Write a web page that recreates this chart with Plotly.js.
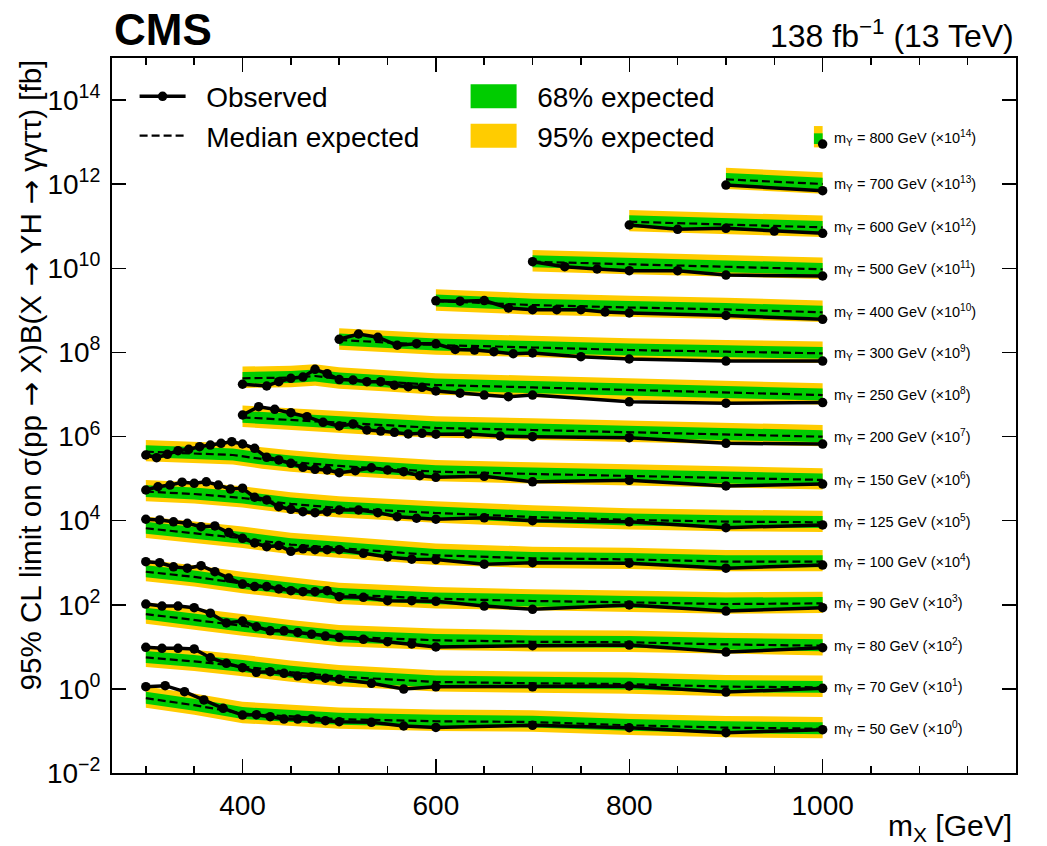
<!DOCTYPE html>
<html><head><meta charset="utf-8">
<script src="https://cdn.plot.ly/plotly-3.0.1.min.js"></script>
<style>html,body{margin:0;padding:0;background:#fff}</style>
</head><body>
<div id="chart" style="width:1047px;height:846px"></div>
<script>
// ---------------- DATA (limits in fb, before the x10^k display scaling) ----------------
const MY_VALUES = [50, 70, 80, 90, 100, 125, 150, 200, 250, 300, 400, 500, 600, 700, 800];
const SCALE_POW = [0, 1, 2, 3, 4, 5, 6, 7, 8, 9, 10, 11, 12, 13, 14];

// mY = 50
const mX_50 = [300,320,340,360,380,400,414.3,428.6,442.9,457.1,471.4,485.7,500,533.3,566.7,600,700,800,900,1000];
const obs_50 = [1.13,1.19,0.86,0.545,0.345,0.239,0.243,0.218,0.192,0.192,0.192,0.175,0.166,0.160,0.131,0.121,0.136,0.119,0.091,0.107];
const mXexp_50 = [300,350,400,450,500,600,700,800,900,1000];
const exp_50 = [0.60,0.41,0.26,0.22,0.19,0.17,0.163,0.136,0.12,0.113];
const lo68_50 = [0.444,0.303,0.192,0.163,0.141,0.126,0.121,0.101,0.0888,0.0836];
const hi68_50 = [0.852,0.582,0.369,0.312,0.270,0.241,0.231,0.193,0.170,0.160];
const lo95_50 = [0.354,0.242,0.153,0.130,0.112,0.100,0.0962,0.0802,0.0708,0.0667];
const hi95_50 = [1.14,0.779,0.494,0.418,0.361,0.323,0.310,0.258,0.228,0.215];

// mY = 70
const mX_70 = [300,316.7,333.3,350,366.7,383.3,400,414.3,428.6,442.9,457.1,471.4,485.7,500,533.3,566.7,600,700,800,900,1000];
const obs_70 = [0.975,0.92,0.92,0.89,0.55,0.405,0.32,0.248,0.256,0.234,0.202,0.195,0.179,0.169,0.136,0.099,0.112,0.112,0.117,0.084,0.103];
const mXexp_70 = [300,350,400,450,500,600,700,800,900,1000];
const exp_70 = [0.56,0.45,0.34,0.25,0.195,0.146,0.136,0.13,0.113,0.109];
const lo68_70 = [0.414,0.333,0.252,0.185,0.144,0.108,0.101,0.0962,0.0836,0.0807];
const hi68_70 = [0.795,0.639,0.483,0.355,0.277,0.207,0.193,0.185,0.160,0.155];
const lo95_70 = [0.330,0.266,0.201,0.148,0.115,0.0861,0.0802,0.0767,0.0667,0.0643];
const hi95_70 = [1.06,0.855,0.646,0.475,0.371,0.277,0.258,0.247,0.215,0.207];

// mY = 80
const mX_80 = [300,316.7,333.3,350,366.7,383.3,400,414.3,428.6,442.9,457.1,471.4,485.7,500,525,550,575,600,700,800,900,1000];
const obs_80 = [1.04,0.93,0.93,0.85,0.63,0.37,0.41,0.30,0.24,0.24,0.22,0.20,0.18,0.168,0.151,0.132,0.117,0.099,0.106,0.110,0.075,0.095];
const mXexp_80 = [300,350,400,450,500,600,700,800,900,1000];
const exp_80 = [0.60,0.43,0.31,0.23,0.174,0.143,0.132,0.128,0.114,0.106];
const lo68_80 = [0.444,0.318,0.229,0.170,0.129,0.106,0.0977,0.0947,0.0844,0.0784];
const hi68_80 = [0.852,0.611,0.440,0.327,0.247,0.203,0.187,0.182,0.162,0.151];
const lo95_80 = [0.354,0.254,0.183,0.136,0.103,0.0844,0.0779,0.0755,0.0673,0.0625];
const hi95_80 = [1.14,0.817,0.589,0.437,0.331,0.272,0.251,0.243,0.217,0.201];

// mY = 90
const mX_90 = [300,314.3,328.6,342.9,357.1,371.4,385.7,400,412.5,425,437.5,450,462.5,475,487.5,500,525,550,575,600,650,700,800,900,1000];
const obs_90 = [1.06,1.00,0.80,0.74,0.85,0.61,0.43,0.31,0.27,0.27,0.237,0.216,0.205,0.205,0.216,0.156,0.150,0.125,0.125,0.121,0.093,0.078,0.099,0.071,0.085];
const mXexp_90 = [300,350,400,450,500,600,700,800,900,1000];
const exp_90 = [0.61,0.46,0.32,0.24,0.177,0.139,0.123,0.114,0.104,0.108];
const lo68_90 = [0.451,0.340,0.237,0.178,0.131,0.103,0.0910,0.0844,0.0770,0.0799];
const hi68_90 = [0.866,0.653,0.454,0.341,0.251,0.197,0.175,0.162,0.148,0.153];
const lo95_90 = [0.360,0.271,0.189,0.142,0.104,0.0820,0.0726,0.0673,0.0614,0.0637];
const hi95_90 = [1.16,0.874,0.608,0.456,0.336,0.264,0.234,0.217,0.198,0.205];

// mY = 100
const mX_100 = [300,314.3,328.6,342.9,357.1,371.4,385.7,400,412.5,425,437.5,450,462.5,475,487.5,500,525,550,575,600,650,700,800,900,1000];
const obs_100 = [1.08,1.04,0.94,0.865,0.72,0.75,0.52,0.38,0.294,0.24,0.256,0.186,0.214,0.204,0.204,0.204,0.167,0.137,0.121,0.119,0.092,0.100,0.097,0.074,0.088];
const mXexp_100 = [300,350,400,450,500,600,700,800,900,1000];
const exp_100 = [0.66,0.51,0.38,0.27,0.22,0.15,0.127,0.120,0.106,0.106];
const lo68_100 = [0.488,0.377,0.281,0.200,0.163,0.111,0.094,0.0888,0.0784,0.0784];
const hi68_100 = [0.937,0.724,0.540,0.383,0.312,0.213,0.180,0.170,0.151,0.151];
const lo95_100 = [0.389,0.301,0.224,0.159,0.130,0.0885,0.0749,0.0708,0.0625,0.0625];
const hi95_100 = [1.25,0.969,0.722,0.513,0.418,0.285,0.241,0.228,0.201,0.201];

// mY = 125
const mX_125 = [300,312.5,325,337.5,350,362.5,375,387.5,400,412.5,425,437.5,450,462.5,475,487.5,500,520,540,560,580,600,650,700,800,900,1000];
const obs_125 = [0.535,0.64,0.70,0.82,0.77,0.84,0.70,0.565,0.59,0.36,0.31,0.214,0.186,0.163,0.155,0.163,0.179,0.179,0.155,0.124,0.114,0.108,0.117,0.0997,0.094,0.068,0.079];
const mXexp_125 = [300,350,400,450,500,600,700,800,900,1000];
const exp_125 = [0.49,0.43,0.345,0.25,0.20,0.152,0.122,0.104,0.095,0.091];
const lo68_125 = [0.363,0.318,0.255,0.185,0.148,0.112,0.0903,0.0770,0.0703,0.0673];
const hi68_125 = [0.696,0.611,0.490,0.355,0.284,0.216,0.173,0.148,0.135,0.129];
const lo95_125 = [0.289,0.254,0.204,0.148,0.118,0.0897,0.0720,0.0614,0.0561,0.0537];
const hi95_125 = [0.931,0.817,0.656,0.475,0.380,0.289,0.232,0.198,0.181,0.173];

// mY = 150
const mX_150 = [300,311.1,322.2,333.3,344.4,355.6,366.7,377.8,388.9,400,412.5,425,437.5,450,462.5,475,487.5,500,516.7,533.3,550,566.7,583.3,600,650,700,800,900,1000];
const obs_150 = [0.364,0.314,0.378,0.46,0.497,0.573,0.628,0.69,0.753,0.664,0.525,0.321,0.277,0.231,0.185,0.166,0.160,0.138,0.154,0.181,0.160,0.146,0.117,0.107,0.113,0.084,0.091,0.067,0.074];
const mXexp_150 = [300,350,390,420,450,500,600,700,800,900,1000];
const exp_150 = [0.436,0.40,0.364,0.292,0.248,0.20,0.146,0.129,0.115,0.103,0.093];
const lo68_150 = [0.323,0.296,0.269,0.216,0.184,0.148,0.108,0.0955,0.0851,0.0762,0.0688];
const hi68_150 = [0.619,0.568,0.517,0.415,0.352,0.284,0.207,0.183,0.163,0.146,0.132];
const lo95_150 = [0.257,0.236,0.215,0.172,0.146,0.118,0.0861,0.0761,0.0679,0.0608,0.0549];
const hi95_150 = [0.828,0.760,0.692,0.555,0.471,0.380,0.277,0.245,0.219,0.196,0.177];

// mY = 200
const mX_200 = [400,416.7,433.3,450,466.7,483.3,500,514.3,528.6,542.9,557.1,571.4,585.7,600,633.3,666.7,700,800,900,1000];
const obs_200 = [0.325,0.512,0.444,0.368,0.296,0.218,0.178,0.199,0.143,0.135,0.126,0.115,0.119,0.1135,0.115,0.103,0.099,0.094,0.069,0.066];
const mXexp_200 = [400,450,500,550,600,700,800,900,1000];
const exp_200 = [0.286,0.247,0.21,0.178,0.160,0.143,0.128,0.112,0.099];
const lo68_200 = [0.212,0.183,0.155,0.132,0.118,0.106,0.0947,0.0829,0.0733];
const hi68_200 = [0.406,0.351,0.298,0.253,0.227,0.203,0.182,0.159,0.141];
const lo95_200 = [0.169,0.146,0.124,0.105,0.0944,0.0844,0.0755,0.0661,0.0584];
const hi95_200 = [0.543,0.469,0.399,0.338,0.304,0.272,0.243,0.213,0.188];

// mY = 250
const mX_250 = [400,425,437.5,450,462.5,475,487.5,500,514.3,528.6,542.9,557.1,571.4,585.7,600,625,650,675,700,800,900,1000];
const obs_250 = [0.175,0.159,0.201,0.242,0.26,0.396,0.312,0.226,0.221,0.201,0.201,0.166,0.153,0.148,0.121,0.107,0.097,0.0885,0.097,0.067,0.062,0.064];
const mXexp_250 = [400,450,475,500,550,600,700,800,900,1000];
const exp_250 = [0.242,0.253,0.275,0.233,0.198,0.168,0.147,0.128,0.111,0.097];
const lo68_250 = [0.179,0.187,0.204,0.172,0.147,0.124,0.109,0.0947,0.0821,0.0718];
const hi68_250 = [0.344,0.359,0.391,0.331,0.281,0.239,0.209,0.182,0.158,0.138];
const lo95_250 = [0.143,0.149,0.162,0.137,0.117,0.0991,0.0867,0.0755,0.0655,0.0572];
const hi95_250 = [0.460,0.481,0.523,0.443,0.376,0.319,0.279,0.243,0.211,0.184];

// mY = 300
const mX_300 = [500,520,540,560,580,600,620,640,660,680,700,750,800,900,1000];
const obs_300 = [0.205,0.274,0.229,0.148,0.161,0.160,0.118,0.114,0.104,0.093,0.097,0.079,0.0697,0.0624,0.0624];
const mXexp_300 = [500,600,700,800,900,1000];
const exp_300 = [0.197,0.150,0.131,0.114,0.104,0.095];
const lo68_300 = [0.146,0.111,0.0969,0.0844,0.0770,0.0703];
const hi68_300 = [0.280,0.213,0.186,0.162,0.148,0.135];
const lo95_300 = [0.116,0.0885,0.0773,0.0673,0.0614,0.0561];
const hi95_300 = [0.374,0.285,0.249,0.217,0.198,0.181];

// mY = 400
const mX_400 = [600,625,650,675,700,725,750,775,800,900,1000];
const obs_400 = [0.169,0.165,0.171,0.114,0.1035,0.1035,0.1035,0.0914,0.0865,0.0754,0.0612];
const mXexp_400 = [600,700,800,900,1000];
const exp_400 = [0.167,0.134,0.117,0.105,0.0898];
const lo68_400 = [0.124,0.0992,0.0866,0.0777,0.0665];
const hi68_400 = [0.237,0.190,0.166,0.149,0.128];
const lo95_400 = [0.0985,0.0791,0.0690,0.0620,0.0530];
const hi95_400 = [0.317,0.255,0.222,0.200,0.171];

// mY = 500
const mX_500 = [700,733.3,766.7,800,850,900,1000];
const obs_500 = [0.1435,0.109,0.0962,0.0877,0.0877,0.0692,0.0656];
const mXexp_500 = [700,800,900,1000];
const exp_500 = [0.143,0.123,0.107,0.0946];
const lo68_500 = [0.106,0.0910,0.0792,0.0700];
const hi68_500 = [0.203,0.175,0.152,0.134];
const lo95_500 = [0.0844,0.0726,0.0631,0.0558];
const hi95_500 = [0.272,0.234,0.203,0.180];

// mY = 600
const mX_600 = [800,850,900,950,1000];
const obs_600 = [0.107,0.0845,0.0893,0.0769,0.068];
const mXexp_600 = [800,900,1000];
const exp_600 = [0.128,0.11,0.094];
const lo68_600 = [0.0947,0.0814,0.0696];
const hi68_600 = [0.182,0.156,0.133];
const lo95_600 = [0.0755,0.0649,0.0555];
const hi95_600 = [0.243,0.209,0.179];

// mY = 700
const mX_700 = [900,1000];
const obs_700 = [0.0955,0.070];
const mXexp_700 = [900,1000];
const exp_700 = [0.130,0.101];
const lo68_700 = [0.0962,0.0747];
const hi68_700 = [0.185,0.143];
const lo95_700 = [0.0767,0.0596];
const hi95_700 = [0.247,0.192];

// mY = 800
const mX_800 = [1000];
const obs_800 = [0.090];
const mXexp_800 = [1000];
const exp_800 = [0.122];
const lo68_800 = [0.0902];
const hi68_800 = [0.162];
const lo95_800 = [0.075];
const hi95_800 = [0.241];

// Axis tick labels
const X_TICK_VALUES = [400, 600, 800, 1000, 1200];
const Y_TICK_EXPONENTS = [-2, 0, 2, 4, 6, 8, 10, 12, 14];

// ---------------- BUILD ----------------
const DATA = {
  50:[mX_50,obs_50,mXexp_50,exp_50,lo68_50,hi68_50,lo95_50,hi95_50],
  70:[mX_70,obs_70,mXexp_70,exp_70,lo68_70,hi68_70,lo95_70,hi95_70],
  80:[mX_80,obs_80,mXexp_80,exp_80,lo68_80,hi68_80,lo95_80,hi95_80],
  90:[mX_90,obs_90,mXexp_90,exp_90,lo68_90,hi68_90,lo95_90,hi95_90],
  100:[mX_100,obs_100,mXexp_100,exp_100,lo68_100,hi68_100,lo95_100,hi95_100],
  125:[mX_125,obs_125,mXexp_125,exp_125,lo68_125,hi68_125,lo95_125,hi95_125],
  150:[mX_150,obs_150,mXexp_150,exp_150,lo68_150,hi68_150,lo95_150,hi95_150],
  200:[mX_200,obs_200,mXexp_200,exp_200,lo68_200,hi68_200,lo95_200,hi95_200],
  250:[mX_250,obs_250,mXexp_250,exp_250,lo68_250,hi68_250,lo95_250,hi95_250],
  300:[mX_300,obs_300,mXexp_300,exp_300,lo68_300,hi68_300,lo95_300,hi95_300],
  400:[mX_400,obs_400,mXexp_400,exp_400,lo68_400,hi68_400,lo95_400,hi95_400],
  500:[mX_500,obs_500,mXexp_500,exp_500,lo68_500,hi68_500,lo95_500,hi95_500],
  600:[mX_600,obs_600,mXexp_600,exp_600,lo68_600,hi68_600,lo95_600,hi95_600],
  700:[mX_700,obs_700,mXexp_700,exp_700,lo68_700,hi68_700,lo95_700,hi95_700],
  800:[mX_800,obs_800,mXexp_800,exp_800,lo68_800,hi68_800,lo95_800,hi95_800]
};

const GREEN = '#00cc00', YELLOW = '#ffcc00';
const FONT = 'Liberation Sans, Arial, Helvetica, sans-serif';
const SINGLE_BAND_WIDTH = 9; // GeV width used to show a band made of a single mass point
const NB = '\u00a0\u00a0';

const bandTraces = [], expTraces = [], obsTraces = [], labels = [];

function bandPoly(xs, lo, hi, s) {
  let X = xs.slice(), L = lo.slice(), H = hi.slice();
  if (X.length === 1) { X = [X[0] - SINGLE_BAND_WIDTH, X[0]]; L = [L[0], L[0]]; H = [H[0], H[0]]; }
  return {
    x: X.concat(X.slice().reverse()),
    y: H.map(v => v * s).concat(L.map(v => v * s).reverse())
  };
}

MY_VALUES.forEach((my, i) => {
  const k = SCALE_POW[i], s = Math.pow(10, k);
  const [mx, obs, mxe, ex, l68, h68, l95, h95] = DATA[my];
  const first = i === 0;
  const p95 = bandPoly(mxe, l95, h95, s);
  bandTraces.push({x:p95.x, y:p95.y, type:'scatter', mode:'lines', fill:'toself', fillcolor:YELLOW,
    line:{width:0, color:YELLOW}, name:'95% expected', showlegend:false, hoverinfo:'skip'});
  const p68 = bandPoly(mxe, l68, h68, s);
  bandTraces.push({x:p68.x, y:p68.y, type:'scatter', mode:'lines', fill:'toself', fillcolor:GREEN,
    line:{width:0, color:GREEN}, name:'68% expected', showlegend:false, hoverinfo:'skip'});
  expTraces.push({x:mxe, y:ex.map(v => v * s), type:'scatter', mode:'lines',
    line:{color:'black', width:2.2, dash:'8px,4px'}, name:NB + 'Median expected', showlegend:first, legendrank:3});
  obsTraces.push({x:mx, y:obs.map(v => v * s), type:'scatter', mode:'lines+markers',
    line:{color:'black', width:3.5}, marker:{color:'black', size:9.5}, name:NB + 'Observed', showlegend:first, legendrank:1});
  labels.push({x:mxe[mxe.length-1], y:Math.log10(ex[ex.length-1] * s), xref:'x', yref:'y',
    text:'m<sub>Y</sub> = ' + my + ' GeV (×10<sup>' + k + '</sup>)', showarrow:false,
    xanchor:'left', yanchor:'middle', xshift:9, font:{size:14.5, family:FONT, color:'black'}});
});

// legend-only swatches (no data points)
const legendSwatches = [
  {x:[null], y:[null], type:'scatter', mode:'lines', line:{color:GREEN, width:10}, name:NB + '68% expected', legendrank:2, showlegend:true},
  {x:[null], y:[null], type:'scatter', mode:'lines', line:{color:YELLOW, width:10}, name:NB + '95% expected', legendrank:4, showlegend:true}
];

const ARROW = '<span style="font-family:DejaVu Sans">→</span>';
const annotations = labels.concat([
  {xref:'paper', yref:'paper', x:0, y:1, xanchor:'left', yanchor:'bottom', yshift:2, showarrow:false,
   text:'<b>CMS</b>', font:{size:44, family:FONT, color:'black'}},
  {xref:'paper', yref:'paper', x:1, y:1, xanchor:'right', yanchor:'bottom', yshift:2, showarrow:false,
   text:'138 fb<sup>−1</sup> (13 TeV)', font:{size:32, family:FONT, color:'black'}},
  {xref:'paper', yref:'paper', x:1, y:0, xanchor:'right', yanchor:'top', yshift:-34, xshift:-2, showarrow:false,
   text:'m<sub>X</sub> [GeV]', font:{size:30, family:FONT, color:'black'}},
  {xref:'paper', yref:'paper', x:0, y:1, xanchor:'center', yanchor:'top', xshift:-82, yshift:0, showarrow:false,
   textangle:-90, text:'95% CL limit on σ(pp ' + ARROW + ' X)B(X ' + ARROW + ' YH ' + ARROW + ' γγττ) [fb]',
   font:{size:29.6, family:FONT, color:'black'}}
]);

const layout = {
  width:1047, height:846,
  margin:{l:112, r:31, t:58, b:73},
  paper_bgcolor:'white', plot_bgcolor:'white',
  font:{family:FONT, color:'black'},
  showlegend:true,
  xaxis:{range:[265,1200], tickvals:X_TICK_VALUES, ticktext:X_TICK_VALUES.map(String),
    ticks:'inside', ticklen:14, tickwidth:1.5, tickcolor:'black',
    minor:{dtick:50, tick0:0, ticks:'inside', ticklen:7, tickwidth:1.5, tickcolor:'black', showgrid:false},
    showline:true, linewidth:2, linecolor:'black', mirror:'allticks', showgrid:false, zeroline:false,
    tickfont:{size:28, family:FONT}, ticklabelstandoff:6},
  yaxis:{type:'log', range:[-2,15], tickvals:Y_TICK_EXPONENTS.map(e => Math.pow(10, e)),
    ticktext:Y_TICK_EXPONENTS.map(e => '10<sup>' + (e < 0 ? '−' + (-e) : e) + '</sup>'),
    ticks:'inside', ticklen:14, tickwidth:1.5, tickcolor:'black',
    showline:true, linewidth:2, linecolor:'black', mirror:'allticks', showgrid:false, zeroline:false,
    tickfont:{size:28, family:FONT}, ticklabelstandoff:4},
  legend:{orientation:'h', x:0.025, xanchor:'left', y:0.981, yanchor:'top', font:{size:28, family:FONT},
    itemwidth:46, entrywidth:270, entrywidthmode:'pixels', bgcolor:'rgba(0,0,0,0)', traceorder:'normal'},
  annotations:annotations
};

Plotly.newPlot('chart', bandTraces.concat(expTraces, obsTraces, legendSwatches), layout, {displayModeBar:false, staticPlot:true})
  .then(gd => {
    // make the band swatches in the legend box-shaped like the reference (style only)
    gd.querySelectorAll('.legend .traces').forEach(t => {
      const txt = (t.querySelector('.legendtext') || {}).textContent || '';
      if (/%\s*expected/.test(txt)) {
        t.querySelectorAll('.legendlines path').forEach(p => { p.style.strokeWidth = '24px'; p.style.strokeLinecap = 'butt'; });
      }
    });
  });
</script></body></html>
